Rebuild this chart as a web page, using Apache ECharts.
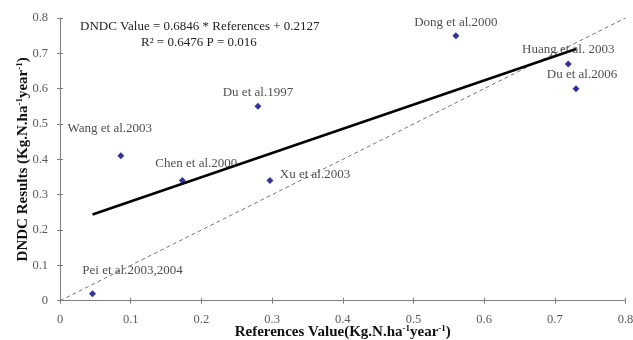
<!DOCTYPE html>
<html>
<head>
<meta charset="utf-8">
<script src="https://cdn.jsdelivr.net/npm/echarts@6/dist/echarts.min.js"></script>
<style>
  html, body { margin: 0; padding: 0; background: #fff; }
  #main { width: 633px; height: 340px; }
</style>
</head>
<body>
<div id="main"></div>
<script>
// studies: reference value vs DNDC result
var studyNames = ['Pei et al.2003,2004', 'Wang et al.2003', 'Chen et al.2000', 'Xu et al.2003',
                  'Du et al.1997', 'Dong et al.2000', 'Huang et al. 2003', 'Du et al.2006'];
var refValues  = [0.046, 0.086, 0.173, 0.297, 0.280, 0.560, 0.719, 0.730];
var dndcValues = [0.02, 0.41, 0.34, 0.34, 0.55, 0.75, 0.67, 0.60];

// fitted line end points and the 1:1 line
var fitLine = [[0.046, 0.244], [0.730, 0.712]];
var oneToOne = [[0, 0], [0.8, 0.8]];

var equationText = ['DNDC Value = 0.6846 * References + 0.2127', 'R\u00b2 = 0.6476 P = 0.016'];

// label offsets (px) from each point, kept apart from the data
var labelShift = [[40, -23], [-11, -27], [14, -17], [45, -6], [0, -14], [0, -13], [0, -14], [6, -14]];

var serif = '"Liberation Serif", "Times New Roman", serif';

var chart = echarts.init(document.getElementById('main'));

var pts = [];
for (var i = 0; i < refValues.length; i++) {
    pts.push({
        value: [refValues[i], dndcValues[i]],
        name: studyNames[i],
        label: { offset: labelShift[i] }
    });
}

var supRich = {
    n: { fontFamily: serif, fontWeight: 'bold', fontSize: 15, color: '#111', lineHeight: 16 },
    s: { fontFamily: serif, fontWeight: 'bold', fontSize: 9, color: '#111', lineHeight: 16, verticalAlign: 'top' }
};

function axisCommon(name) {
    return {
        type: 'value', min: 0, max: 0.8, interval: 0.1,
        splitLine: { show: false },
        axisLine: { show: true, lineStyle: { color: '#7f7f7f', width: 1 } },
        axisTick: { show: true, length: 3, lineStyle: { color: '#7f7f7f' } },
        axisLabel: { fontFamily: serif, fontSize: 12.5, color: '#5a5a5a',
            formatter: function (v) { return v === 0 ? '0' : String(+v.toFixed(1)); } },
        name: name, nameLocation: 'middle', nameMoveOverlap: false,
        nameTextStyle: { rich: supRich }
    };
}

var xMain = axisCommon('{n|References Value(Kg.N.ha}{s|-1}{n|year}{s|-1}{n|)}');
xMain.nameGap = 23;
xMain.axisLabel.margin = 13;
var yMain = axisCommon('{n|DNDC Results (Kg.N.ha}{s|-1}{n|year}{s|-1}{n|)}');
yMain.nameGap = 29;
yMain.axisLabel.margin = 12;

// second copies only to draw the inner half of the crossing ticks
var xInner = { type: 'value', min: 0, max: 0.8, interval: 0.1, position: 'bottom',
    axisLine: { show: false }, splitLine: { show: false }, axisLabel: { show: false },
    axisTick: { show: true, inside: true, length: 3, lineStyle: { color: '#7f7f7f' } } };
var yInner = { type: 'value', min: 0, max: 0.8, interval: 0.1, position: 'left',
    axisLine: { show: false }, splitLine: { show: false }, axisLabel: { show: false },
    axisTick: { show: true, inside: true, length: 3, lineStyle: { color: '#7f7f7f' } } };

var option = {
    backgroundColor: '#fff',
    animation: false,
    grid: { left: 60, top: 18, right: 7.5, bottom: 39.3, containLabel: false, outerBoundsMode: 'none' },
    xAxis: [xMain, xInner],
    yAxis: [yMain, yInner],
    graphic: [
        { type: 'text', left: 80, top: 20,
          style: { text: equationText[0], font: '13px ' + serif, fill: '#222' } },
        { type: 'text', left: 141, top: 36,
          style: { text: equationText[1], font: '13px ' + serif, fill: '#222' } }
    ],
    series: [
        {
            type: 'line', data: oneToOne, showSymbol: false, silent: true,
            lineStyle: { color: '#777', width: 1, type: [4, 3] }, z: 1
        },
        {
            type: 'line', data: fitLine, showSymbol: false, silent: true,
            lineStyle: { color: '#000', width: 2.6 }, z: 2
        },
        {
            type: 'scatter', data: pts, symbol: 'diamond', symbolSize: 7,
            itemStyle: { color: '#000080' }, z: 3,
            label: {
                show: true, position: 'inside',
                formatter: function (p) { return p.name; },
                fontFamily: serif, fontSize: 13, color: '#222'
            }
        }
    ]
};

chart.setOption(option);
</script>
</body>
</html>
